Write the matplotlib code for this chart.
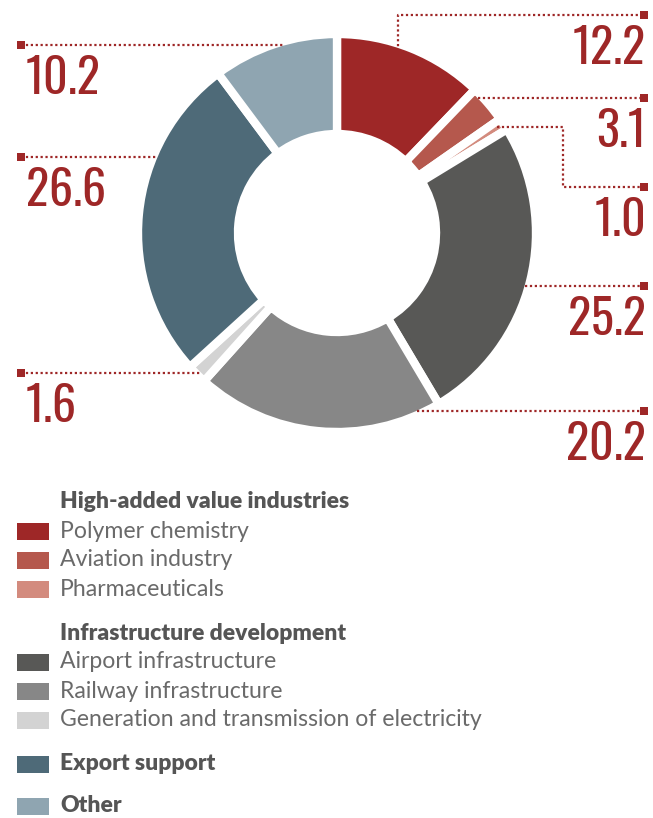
import numpy as np
import matplotlib.pyplot as plt
from matplotlib import font_manager as fm
from matplotlib.patches import Rectangle

W, H = 653, 818

sectors = ['Polymer chemistry', 'Aviation industry', 'Pharmaceuticals',
           'Airport infrastructure', 'Railway infrastructure',
           'Generation and transmission of electricity',
           'Export support', 'Other']
shares = [12.2, 3.1, 1.0, 25.2, 20.2, 1.6, 26.6, 10.2]
value_labels = ['12.2', '3.1', '1.0', '25.2', '20.2', '1.6', '26.6', '10.2']
colors = ['#9e2727', '#b5584d', '#d38b7e', '#585856', '#878787',
          '#d3d3d3', '#4e6a78', '#8fa5b1']

group_titles = ['High-added value industries', 'Infrastructure development']
group_members = [[0, 1, 2], [3, 4, 5]]

RED = '#9e2727'
LEG_FONT = ['Lato', 'DejaVu Sans']

# pick a tall narrow face for the big numbers if one is installed
names = {f.name for f in fm.fontManager.ttflist}
faces = [('Oswald', 34.5, 'semibold'), ('Roboto Condensed', 34, 'bold'),
         ('Liberation Sans Narrow', 34, 'bold')]
faces = [f for f in faces if f[0] in names] or [('DejaVu Sans', 30, 'bold')]
NUM_FONT, NUM_SIZE, NUM_WEIGHT = faces[0]


def py(y):
    # pixel row (from top) -> data y
    return H - y


fig = plt.figure(figsize=(W / 100, H / 100), dpi=100)
ax = fig.add_axes([0, 0, 1, 1])

cx, cy = 337, 233
R_out = 199
wedges, _ = ax.pie(shares, colors=colors, startangle=90, counterclock=False,
                   center=(cx, py(cy)), radius=R_out,
                   wedgeprops=dict(width=100, edgecolor='white', linewidth=6))
ax.set_xlim(0, W)
ax.set_ylim(0, H)
ax.set_aspect('equal')
ax.axis('off')

R_vis = R_out - 4


def hit_x(y, side):
    dy = y - cy
    return cx + side * np.sqrt(max(R_vis ** 2 - dy ** 2, 0))


dot = dict(color=RED, lw=1.6, linestyle=(0, (1, 1.2)), solid_capstyle='butt')

# callouts: slice index -> (side, line row, extra route)
callouts = {
    0: ('R', 15, dict(drop_x=398)),
    1: ('R', 98, {}),
    2: ('R', 187, dict(start_y=127, elbow_x=563)),
    3: ('R', 286, {}),
    4: ('R', 411, {}),
    5: ('L', 373, {}),
    6: ('L', 157, {}),
    7: ('L', 45, {}),
}

num_kw = dict(va='center', fontsize=NUM_SIZE, fontweight=NUM_WEIGHT,
              color=RED, family=[NUM_FONT, 'DejaVu Sans'])

for i, (side, y, extra) in callouts.items():
    if side == 'R':
        end_x = 643
        if 'drop_x' in extra:
            x0 = extra['drop_x']
            y_hit = cy - np.sqrt(R_vis ** 2 - (x0 - cx) ** 2) + 8
            xs, ys = [x0, x0, end_x], [y_hit, y, y]
        elif 'elbow_x' in extra:
            y0 = extra['start_y']
            x0 = hit_x(y0, 1) - 4
            ex = extra['elbow_x']
            xs, ys = [x0, ex, ex, end_x], [y0, y0, y, y]
        else:
            x0 = hit_x(y, 1)
            xs, ys = [x0, end_x], [y, y]
        ax.plot(xs, [py(v) for v in ys], **dot)
        ax.add_patch(Rectangle((end_x - 3, py(y) - 4), 8, 8, color=RED, lw=0))
        ax.text(646, py(y + 34), value_labels[i], ha='right', **num_kw)
    else:
        end_x = 21
        x0 = hit_x(y, -1)
        ax.plot([end_x, x0], [py(y), py(y)], **dot)
        ax.add_patch(Rectangle((end_x - 4, py(y) - 4), 8, 8, color=RED, lw=0))
        ax.text(26, py(y + 34), value_labels[i], ha='left', **num_kw)

# legend
rows = []
y = 502
for title, members in zip(group_titles, group_members):
    rows.append((y, title, None, True))
    y += 29
    for m in members:
        rows.append((y, sectors[m], colors[m], False))
        y += 29
    y += 15
rows.append((764, sectors[6], colors[6], True))
rows.append((806, sectors[7], colors[7], True))

for y, label, col, bold in rows:
    if col is not None:
        ax.add_patch(Rectangle((17, py(y) - 8.5), 32, 17, color=col, lw=0))
    ax.text(60, py(y), label, ha='left', va='center',
            fontsize=16.5 if bold else 16.6,
            fontweight='heavy' if bold else 'normal',
            color='#555555' if bold else '#6a6a6a', family=LEG_FONT)

fig.savefig('out.png', dpi=100)
